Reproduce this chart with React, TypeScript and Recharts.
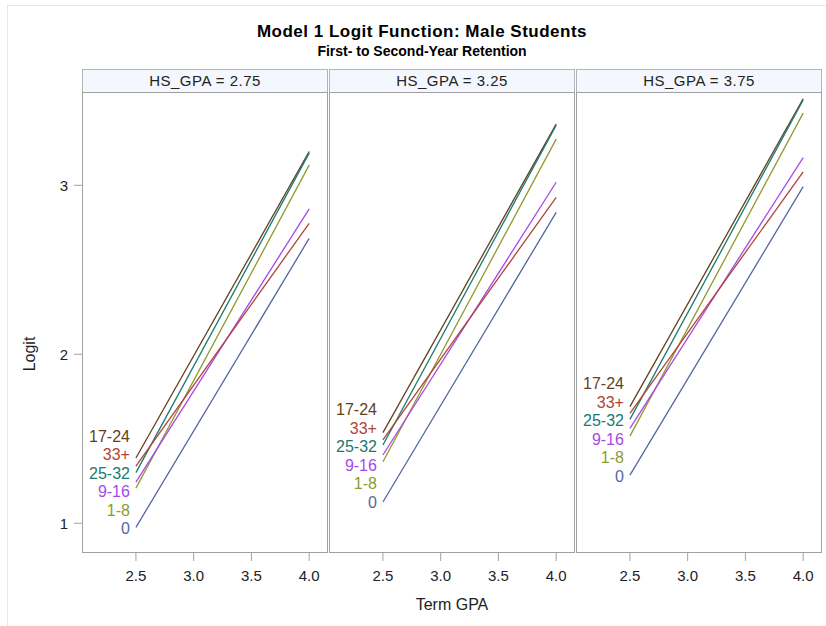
import React from "react";
import { LineChart, Line, XAxis, YAxis } from "recharts";

// age groups (curve labels) and their colors
const groups = ["0", "1-8", "9-16", "17-24", "25-32", "33+"];
const groupColors = ["#5566a3", "#8e9a30", "#a64ae6", "#634020", "#1a7a70", "#b04438"];

const termGpa = [2.5, 4.0];
const hsGpaPanels = ["2.75", "3.25", "3.75"];

// logit at Term GPA = 2.5 and 4.0, one value per group
const startHs275 = [0.976, 1.208, 1.243, 1.386, 1.3, 1.338];
const endHs275 = [2.686, 3.119, 2.86, 3.2, 3.19, 2.775];
const startHs325 = [1.126, 1.364, 1.404, 1.536, 1.463, 1.493];
const endHs325 = [2.84, 3.273, 3.018, 3.362, 3.355, 2.929];
const startHs375 = [1.285, 1.516, 1.562, 1.69, 1.615, 1.651];
const endHs375 = [2.992, 3.427, 3.164, 3.512, 3.505, 3.079];

const xTicks = [2.5, 3.0, 3.5, 4.0];
const yTicks = [1, 2, 3];

const starts = [startHs275, startHs325, startHs375];
const ends = [endHs275, endHs325, endHs375];

const FONT = "'Liberation Sans', Arial, sans-serif";
const X_DOMAIN: [number, number] = [2.033, 4.163];
const Y_DOMAIN: [number, number] = [0.83, 3.552];
const PLOT_TOP = 92;
const PLOT_W = 246;
const PLOT_H = 460;
const PANEL_LEFTS = [82, 329, 576];
const Y_AXIS_W = 60;
const X_AXIS_H = 50;
const PX_PER_UNIT = PLOT_H / (Y_DOMAIN[1] - Y_DOMAIN[0]);
const LABEL_GAP = 18.5 / PX_PER_UNIT;

// spread the curve labels so they don't overlap (cluster + center on mean)
function placeLabels(values: number[]): number[] {
  const order = values.map((_, i) => i).sort((a, b) => values[b] - values[a]);
  let clusters = order.map((i) => ({ items: [i], center: values[i] }));
  let merged = true;
  while (merged) {
    merged = false;
    for (let c = 0; c < clusters.length - 1; c++) {
      const a = clusters[c];
      const b = clusters[c + 1];
      const aBottom = a.center - ((a.items.length - 1) / 2) * LABEL_GAP;
      const bTop = b.center + ((b.items.length - 1) / 2) * LABEL_GAP;
      if (aBottom - bTop < LABEL_GAP) {
        const items = [...a.items, ...b.items];
        const center = items.reduce((s, i) => s + values[i], 0) / items.length;
        clusters.splice(c, 2, { items, center });
        merged = true;
        break;
      }
    }
  }
  const out = new Array(values.length).fill(0);
  clusters.forEach((cl) => {
    const n = cl.items.length;
    cl.items.forEach((i, k) => {
      out[i] = cl.center + ((n - 1) / 2 - k) * LABEL_GAP;
    });
  });
  return out;
}

const tickStyle = { fill: "#222", fontSize: 15, fontFamily: FONT };

function Panel({ p }: { p: number }) {
  const rows = termGpa.map((g, r) => {
    const row: any = { gpa: g };
    groups.forEach((_, i) => {
      row["s" + i] = r === 0 ? starts[p][i] : ends[p][i];
    });
    return row;
  });
  const labelPos = placeLabels(starts[p]);
  const showY = p === 0;
  const left = PANEL_LEFTS[p] - (showY ? Y_AXIS_W : 0);
  const width = PLOT_W + (showY ? Y_AXIS_W : 0);

  const makeDot = (i: number) => (props: any) => {
    const { cx, cy, index } = props;
    if (index !== 0 || cx == null || cy == null) return <g key={`d-${p}-${i}-${index}`} />;
    const dy = (starts[p][i] - labelPos[i]) * PX_PER_UNIT;
    return (
      <text
        key={`d-${p}-${i}-${index}`}
        x={cx - 6}
        y={cy + dy}
        textAnchor="end"
        dominantBaseline="central"
        fill={groupColors[i]}
        fontSize={16}
        fontFamily={FONT}
      >
        {groups[i]}
      </text>
    );
  };

  return (
    <>
      <div
        style={{
          position: "absolute",
          left: PANEL_LEFTS[p],
          top: 69,
          width: PLOT_W,
          height: 24,
          boxSizing: "border-box",
          border: "1px solid #b4b4b4",
          background: "#f5f7fe",
          textAlign: "center",
          fontFamily: FONT,
          fontSize: 15,
          letterSpacing: 0.5,
          lineHeight: "22px",
          color: "#222",
        }}
      >
        HS_GPA = {hsGpaPanels[p]}
      </div>
      <div style={{ position: "absolute", left, top: PLOT_TOP }}>
        <LineChart
          width={width}
          height={PLOT_H + X_AXIS_H}
          data={rows}
          margin={{ top: 0, right: 0, bottom: 0, left: 0 }}
        >
          <XAxis
            dataKey="gpa"
            type="number"
            domain={X_DOMAIN}
            ticks={xTicks}
            allowDataOverflow
            height={X_AXIS_H}
            axisLine={false}
            tickLine={{ stroke: "#a0a0a0" }}
            tickSize={9}
            tickMargin={9}
            tick={tickStyle}
            tickFormatter={(v: number) => v.toFixed(1)}
          />
          <YAxis
            type="number"
            domain={Y_DOMAIN}
            ticks={yTicks}
            allowDataOverflow
            hide={!showY}
            width={Y_AXIS_W}
            axisLine={false}
            tickLine={{ stroke: "#a0a0a0" }}
            tickSize={8}
            tickMargin={6}
            tick={tickStyle}
          />
          {groups.map((g, i) => (
            <Line
              key={g}
              dataKey={"s" + i}
              type="linear"
              stroke={groupColors[i]}
              strokeWidth={1.3}
              dot={makeDot(i)}
              activeDot={false}
              isAnimationActive={false}
            />
          ))}
        </LineChart>
      </div>
      <div
        style={{
          position: "absolute",
          left: PANEL_LEFTS[p],
          top: PLOT_TOP,
          width: PLOT_W,
          height: PLOT_H + 1,
          boxSizing: "border-box",
          border: "1px solid #a0a0a0",
          pointerEvents: "none",
        }}
      />
    </>
  );
}

export default function App() {
  return (
    <div
      style={{
        position: "absolute",
        left: 0,
        top: 0,
        width: 826,
        height: 626,
        overflow: "hidden",
        background: "#fff",
        fontFamily: FONT,
      }}
    >
      <div
        style={{
          position: "absolute",
          left: 7,
          top: 5,
          width: 900,
          height: 700,
          border: "1px solid #e6e6e6",
        }}
      />
      <div
        style={{
          position: "absolute",
          left: 22,
          top: 21,
          width: 800,
          textAlign: "center",
          fontWeight: "bold",
          fontSize: 17,
          letterSpacing: 0.5,
          lineHeight: "21px",
          color: "#000",
        }}
      >
        Model 1 Logit Function: Male Students
      </div>
      <div
        style={{
          position: "absolute",
          left: 22,
          top: 43,
          width: 800,
          textAlign: "center",
          fontWeight: "bold",
          fontSize: 14,
          lineHeight: "17px",
          color: "#000",
        }}
      >
        First- to Second-Year Retention
      </div>
      {hsGpaPanels.map((_, p) => (
        <Panel key={p} p={p} />
      ))}
      <div
        style={{
          position: "absolute",
          left: 30 - 40,
          top: 354 - 10,
          width: 80,
          height: 20,
          lineHeight: "20px",
          textAlign: "center",
          fontSize: 16,
          color: "#222",
          transform: "rotate(-90deg)",
        }}
      >
        Logit
      </div>
      <div
        style={{
          position: "absolute",
          left: 452 - 100,
          top: 605 - 10,
          width: 200,
          height: 20,
          lineHeight: "20px",
          textAlign: "center",
          fontSize: 16,
          color: "#222",
        }}
      >
        Term GPA
      </div>
    </div>
  );
}
